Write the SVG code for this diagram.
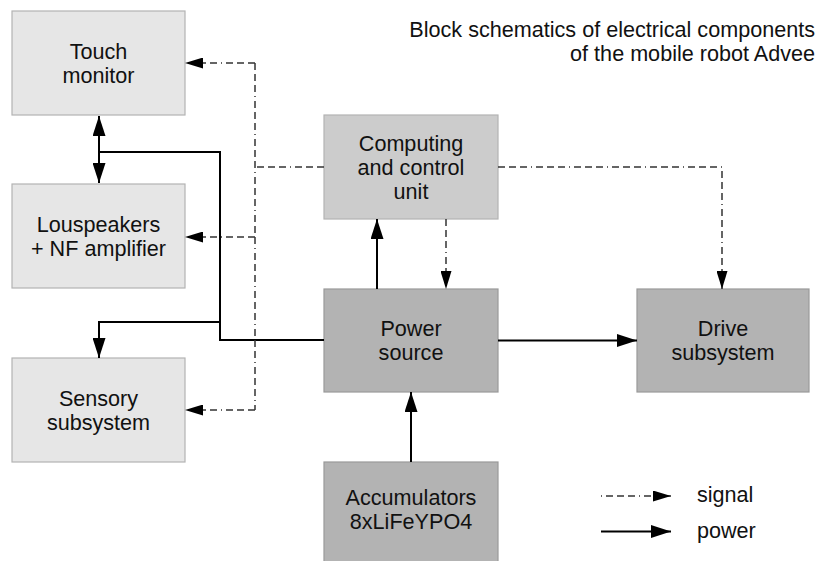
<svg xmlns="http://www.w3.org/2000/svg" width="821" height="561" viewBox="0 0 821 561">
<style>
text{font-family:"Liberation Sans",Arial,sans-serif;font-size:21.6px;fill:#111;}
.c{text-anchor:middle;}
.light{fill:#e6e6e6;stroke:#b3b3b3;stroke-width:1.2;}
.mid{fill:#cccccc;stroke:#b3b3b3;stroke-width:1.2;}
.dark{fill:#b3b3b3;stroke:#999999;stroke-width:1.2;}
.pw{fill:none;stroke:#000;stroke-width:2;}
.sg{fill:none;stroke:#333;stroke-width:1.5;stroke-dasharray:7,4,7,4,7,4,1,4;}
</style>
<defs>
<marker id="ah" viewBox="0 0 20 13" refX="20" refY="6.5" markerWidth="20" markerHeight="13" markerUnits="userSpaceOnUse" orient="auto-start-reverse">
<path d="M0,0 L20,6.5 L0,13 Z" fill="#000"/>
</marker>
<marker id="as" viewBox="0 0 18 11" refX="18" refY="5.5" markerWidth="18" markerHeight="11" markerUnits="userSpaceOnUse" orient="auto">
<path d="M0,0 L18,5.5 L0,11 Z" fill="#000"/>
</marker>
</defs>
<rect width="821" height="561" fill="#fff"/>
<g id="title">
<text x="815" y="37" style="text-anchor:end">Block schematics of electrical components</text>
<text x="815" y="61" style="text-anchor:end">of the mobile robot Advee</text>
</g>
<g id="touch">
<rect class="light" x="12" y="11" width="173" height="104"/>
<text class="c" x="98.5" y="58.5">Touch</text>
<text class="c" x="98.5" y="82.5">monitor</text>
</g>
<g id="speakers">
<rect class="light" x="12" y="184" width="173" height="104"/>
<text class="c" x="98.5" y="231.5">Louspeakers</text>
<text class="c" x="98.5" y="255.5">+ NF amplifier</text>
</g>
<g id="sensory">
<rect class="light" x="12" y="358" width="173" height="104"/>
<text class="c" x="98.5" y="405.5">Sensory</text>
<text class="c" x="98.5" y="429.5">subsystem</text>
</g>
<g id="computing">
<rect class="mid" x="324" y="115" width="174" height="104"/>
<text class="c" x="411" y="150.5">Computing</text>
<text class="c" x="411" y="174.5">and control</text>
<text class="c" x="411" y="198.5">unit</text>
</g>
<g id="power">
<rect class="dark" x="324" y="289" width="174" height="103"/>
<text class="c" x="411" y="336">Power</text>
<text class="c" x="411" y="360">source</text>
</g>
<g id="drive">
<rect class="dark" x="637" y="289" width="172" height="103"/>
<text class="c" x="723" y="336">Drive</text>
<text class="c" x="723" y="360">subsystem</text>
</g>
<g id="accumulators">
<rect class="dark" x="324" y="462" width="174" height="105"/>
<text class="c" x="411" y="505">Accumulators</text>
<text class="c" x="411" y="529">8xLiFeYPO4</text>
</g>
<g id="connectors">
<path class="pw" d="M99,116 L99,183" marker-start="url(#ah)" marker-end="url(#ah)"/>
<path class="pw" d="M99,152 L220,152 L220,340 L324,340"/>
<path class="pw" d="M220,322 L99,322 L99,358" marker-end="url(#ah)"/>
<path class="pw" d="M377,289 L377,219" marker-end="url(#ah)"/>
<path class="pw" d="M411,462 L411,392" marker-end="url(#ah)"/>
<path class="pw" d="M498,340.5 L637,340.5" marker-end="url(#ah)"/>
<path class="sg" d="M446,219 L446,289" marker-end="url(#as)"/>
<path class="sg" d="M498,167 L722,167 L722,289" marker-end="url(#as)"/>
<path class="sg" d="M324,167 L255,167"/>
<path class="sg" d="M255,63 L255,410"/>
<path class="sg" d="M255,63 L185,63" marker-end="url(#as)"/>
<path class="sg" d="M255,237 L185,237" marker-end="url(#as)"/>
<path class="sg" d="M255,410 L185,410" marker-end="url(#as)"/>
</g>
<g id="legend">
<path class="sg" d="M601,496 L671,496" style="stroke-dasharray:1,4,7,4,7,4,7,4" marker-end="url(#as)"/>
<path class="pw" d="M601,531.5 L671,531.5" marker-end="url(#ah)"/>
<text x="697" y="502">signal</text>
<text x="697" y="538">power</text>
</g>
</svg>
